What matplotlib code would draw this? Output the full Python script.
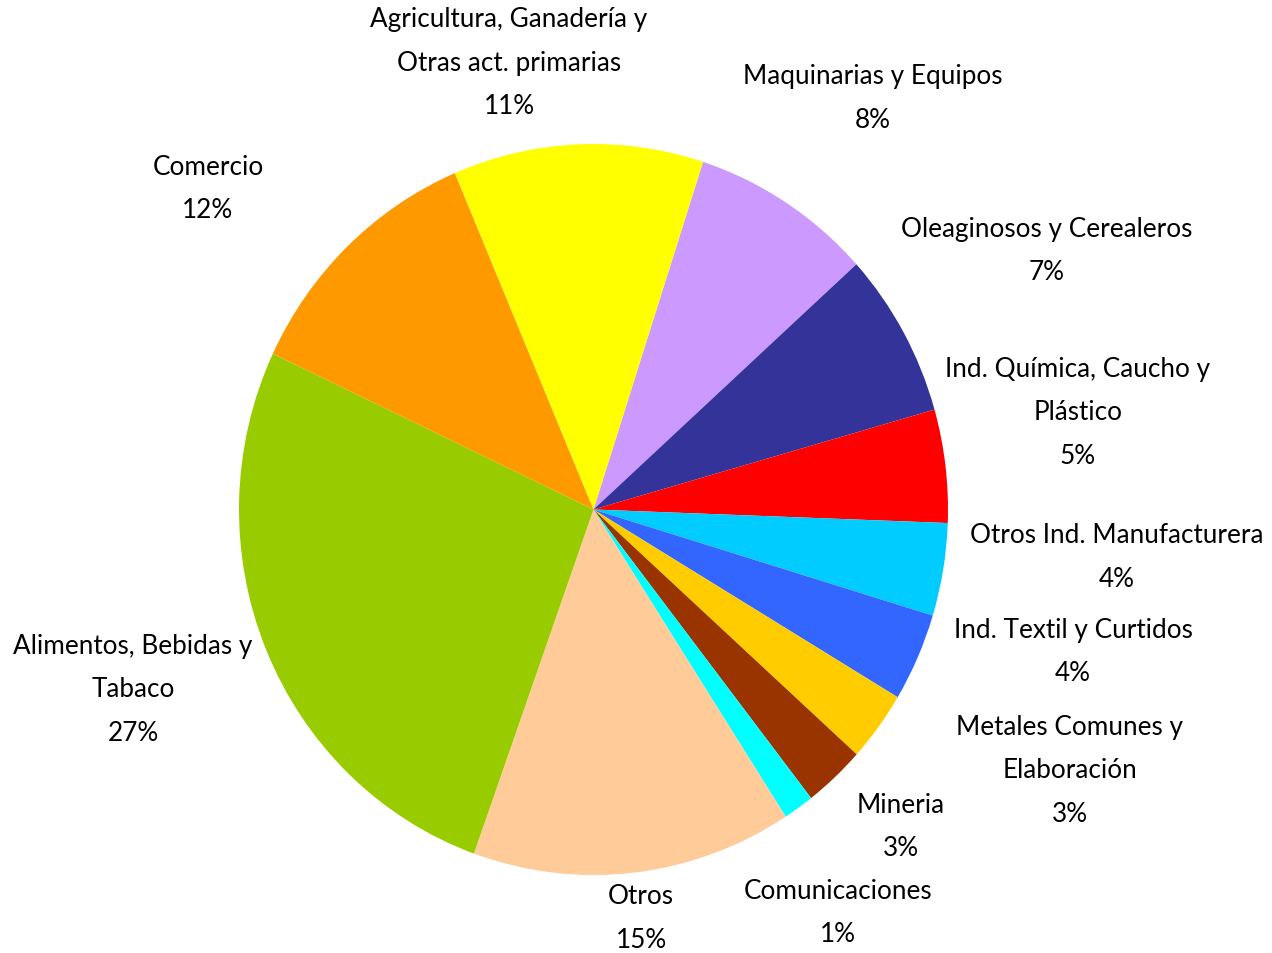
import matplotlib
matplotlib.use("Agg")
import matplotlib.pyplot as plt

# ---- data ----
categories = [
    "Maquinarias y Equipos",
    "Oleaginosos y Cerealeros",
    "Ind. Química, Caucho y\nPlástico",
    "Otros Ind. Manufacturera",
    "Ind. Textil y Curtidos",
    "Metales Comunes y\nElaboración",
    "Mineria",
    "Comunicaciones",
    "Otros",
    "Alimentos, Bebidas y\nTabaco",
    "Comercio",
    "Agricultura, Ganadería y\nOtras act. primarias",
]
shares = [8.3, 7.3, 5.0, 4.1, 3.9, 3.1, 2.8, 1.4, 14.6, 26.55, 11.6, 11.4]
colors = ["#CC99FF", "#333399", "#FF0000", "#00CCFF", "#3366FF", "#FFCC00",
          "#993300", "#00FFFF", "#FFCC99", "#99CC00", "#FF9900", "#FFFF00"]

# ---- label placement (axes fraction, centre of each text block) ----
label_pos = [
    (873 / 1272, 1 - 98.5 / 954),
    (1047 / 1272, 1 - 251 / 954),
    (1078 / 1272, 1 - 413 / 954),
    (1117 / 1272, 1 - 557.5 / 954),
    (1073 / 1272, 1 - 652 / 954),
    (1070 / 1272, 1 - 771 / 954),
    (901 / 1272, 1 - 827 / 954),
    (838 / 1272, 1 - 913 / 954),
    (641 / 1272, 1 - 918.5 / 954),
    (133 / 1272, 1 - 690 / 954),
    (208 / 1272, 1 - 189 / 954),
    (509 / 1272, 1 - 63 / 954),
]

W, H = 1272, 954
fig = plt.figure(figsize=(W / 100, H / 100), dpi=100)
ax = fig.add_axes([0, 0, 1, 1])

wedges, _ = ax.pie(shares, colors=colors, startangle=72.0, counterclock=False,
                   wedgeprops=dict(linewidth=0, antialiased=True))

# pie is slightly taller than wide in the reference
cx, cy, rx, ry = 593.5, 510.5, 354.5, 365.5
ax.set_aspect("auto")
ax.set_xlim(-cx / rx, (W - cx) / rx)
ax.set_ylim(-(H - cy) / ry, cy / ry)
ax.axis("off")

total = sum(shares)
for name, val, (lx, ly) in zip(categories, shares, label_pos):
    pct = f"{round(val / total * 100):.0f}%"
    ax.text(lx, ly, f"{name}\n{pct}", transform=ax.transAxes,
            ha="center", va="center", multialignment="center",
            fontsize=18.8, family=["Lato", "DejaVu Sans"], linespacing=1.93,
            color="black")

fig.savefig("out.png", dpi=100, facecolor="white")
